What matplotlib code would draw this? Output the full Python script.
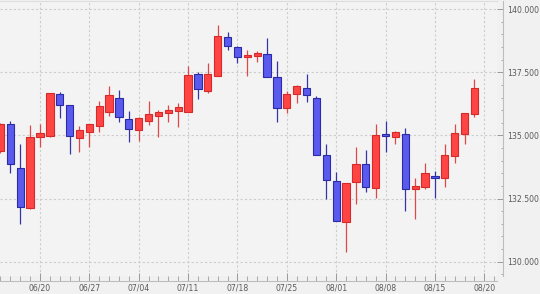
import matplotlib
matplotlib.use("Agg")
import matplotlib.pyplot as plt
from matplotlib.ticker import FixedLocator, MultipleLocator, FormatStrFormatter

# ---- data (USD/JPY daily, 2022-06-14 .. 2022-08-19) ----
opens = [134.38, 135.45, 133.71, 132.14, 134.95, 134.99, 136.62, 136.19, 134.89, 135.12,
         135.38, 135.93, 136.50, 135.66, 135.21, 135.57, 135.78, 135.90, 135.98, 135.93,
         137.44, 136.77, 137.35, 138.90, 138.48, 138.09, 138.15, 138.22, 137.31, 136.07,
         136.64, 136.89, 136.50, 134.22, 133.18, 131.58, 133.17, 133.85, 132.90, 135.04,
         134.95, 135.04, 132.88, 132.94, 133.40, 133.32, 134.18, 135.05, 135.86]
highs = [135.50, 135.58, 134.66, 135.40, 135.45, 136.69, 136.70, 136.19, 135.38, 135.47,
         136.37, 136.97, 136.79, 135.98, 135.74, 136.36, 136.00, 136.19, 136.27, 137.76,
         137.51, 137.85, 139.37, 139.10, 138.55, 138.38, 138.34, 138.87, 137.94, 136.77,
         136.99, 137.45, 136.56, 134.66, 133.54, 133.11, 134.55, 134.42, 135.47, 135.57,
         135.17, 135.29, 133.30, 133.89, 133.59, 134.66, 135.47, 135.87, 137.22]
lows = [134.30, 133.50, 131.49, 132.10, 134.53, 134.92, 135.67, 134.25, 134.35, 134.53,
        135.12, 135.78, 135.54, 134.72, 134.76, 135.40, 134.95, 135.54, 135.32, 135.93,
        136.45, 136.69, 137.35, 138.38, 137.88, 137.37, 137.89, 137.32, 135.54, 135.87,
        136.27, 136.31, 134.21, 132.48, 131.61, 130.40, 132.28, 132.76, 132.51, 134.35,
        134.66, 132.02, 131.71, 132.88, 132.51, 132.94, 133.92, 134.66, 135.71]
closes = [135.45, 133.85, 132.18, 134.95, 135.09, 136.66, 136.20, 134.97, 135.20, 135.47,
          136.16, 136.58, 135.74, 135.25, 135.70, 135.86, 135.91, 136.00, 136.11, 137.40,
          136.82, 137.43, 138.93, 138.52, 138.11, 138.18, 138.27, 137.32, 136.07, 136.64,
          136.94, 136.60, 134.21, 133.22, 131.61, 133.11, 133.88, 132.94, 135.00, 134.99,
          135.15, 132.86, 133.00, 133.50, 133.30, 134.23, 135.08, 135.87, 136.87]

tick_labels = ['06/20', '06/27', '07/04', '07/11', '07/18', '07/25', '08/01', '08/08', '08/15', '08/20']
first_tick_index = 4
tick_step = 5

# ---- styling ----
fig_bg = '#f1f1f1'
ax_bg = '#f3f3f3'
up_fill, up_edge = '#ff4444', '#d42a2a'
dn_fill, dn_edge = '#5a5aee', '#2b2ba6'
label_color = '#5a5a5a'
grid_color = '#cdcdcd'
axis_color = '#bdbdbd'

W, H = 540, 294
fig = plt.figure(figsize=(W / 100, H / 100), dpi=100, facecolor=fig_bg)
left_px, right_px, top_px, bottom_px = 0, 497, 1, 276
ax = fig.add_axes([left_px / W, 1 - bottom_px / H, (right_px - left_px) / W, (bottom_px - top_px) / H])
ax.set_facecolor(ax_bg)

n = len(opens)
xs = list(range(n))
for i in xs:
    o, h, l, c = opens[i], highs[i], lows[i], closes[i]
    up = c >= o
    fill = up_fill if up else dn_fill
    edge = up_edge if up else dn_edge
    wick = '#e04848' if up else '#3434a8'
    ax.vlines(i, l, h, color=wick, linewidth=0.9, zorder=2)
    ax.bar(i, max(abs(c - o), 0.02), bottom=min(o, c), width=0.74,
           color=fill, edgecolor=edge, linewidth=0.8, zorder=3)

ax.set_xlim(-0.05, 50.29)
ax.set_ylim(129.434, 140.32)

tick_pos = [first_tick_index + tick_step * k for k in range(len(tick_labels))]
ax.xaxis.set_major_locator(FixedLocator(tick_pos))
ax.set_xticks(tick_pos)
ax.set_xticklabels(tick_labels)
ax.xaxis.set_minor_locator(MultipleLocator(1))

ax.yaxis.tick_right()
ax.yaxis.set_label_position('right')
ax.yaxis.set_major_locator(MultipleLocator(2.5))
ax.yaxis.set_minor_locator(MultipleLocator(0.5))
ax.yaxis.set_major_formatter(FormatStrFormatter('%.3f'))

ax.grid(True, which='major', color=grid_color, linestyle=(0, (2, 2)), linewidth=0.8, zorder=0)
ax.set_axisbelow(True)

for s in ['left']:
    ax.spines[s].set_visible(False)
ax.spines['top'].set_color('#dedede')
ax.spines['top'].set_linewidth(0.8)
ax.spines['bottom'].set_position(('outward', 3.6))
ax.spines['right'].set_position(('outward', 4.3))
for s in ['bottom', 'right']:
    ax.spines[s].set_color(axis_color)
    ax.spines[s].set_linewidth(0.8)

ax.tick_params(axis='x', which='major', direction='in', length=5.8, width=0.7,
               color='#9a9a9a', labelsize=5.6, labelcolor=label_color, pad=1.8)
ax.tick_params(axis='x', which='minor', direction='in', length=3.6, width=0.7, color='#a8a8a8')
ax.tick_params(axis='y', which='major', direction='in', length=4.3, width=0.7,
               color='#9a9a9a', labelsize=5.6, labelcolor=label_color, pad=2.8,
               left=False, right=True)
ax.tick_params(axis='y', which='minor', direction='in', length=1.8, width=0.7,
               color='#a8a8a8', left=False, right=True)
for t in ax.get_xticklabels() + ax.get_yticklabels():
    t.set_fontfamily('DejaVu Sans')

fig.savefig('out.png', dpi=100, facecolor=fig_bg)
